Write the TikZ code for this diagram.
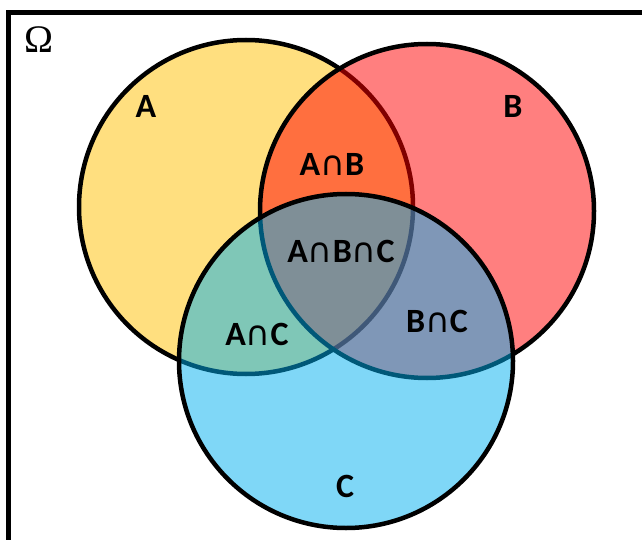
\documentclass[tikz,border=0pt]{standalone}
\usepackage{fontspec}
\setmainfont{Carlito}
\newfontfamily\capfont[Scale=1.0]{DejaVu Sans}
\newfontfamily\omegafont{Liberation Serif}
\definecolor{setA}{HTML}{FFC000}
\definecolor{setB}{HTML}{FF0000}
\definecolor{setC}{HTML}{00B0F0}
\newcommand{\inter}{{\capfont\mdseries ∩}}
\begin{document}
\begin{tikzpicture}[x=1pt,y=-1pt]
			\tikzstyle{set}=[circle,draw=black,line width=4.5pt,fill opacity=0.5,inner sep=0pt,minimum size=334pt]
			\tikzstyle{lbl}=[font=\fontsize{34}{40}\selectfont\bfseries,inner sep=0pt]
			\useasboundingbox (0,0) rectangle (642,540);
			\clip (0,0) rectangle (642,540);
			\fill[white] (0,0) rectangle (642,540);
			\draw[line width=5pt] (8.5,12.5) rectangle (700,600);
			
			\begin{scope}
			\node[set,fill=setA] (A) at (246,207) {};
			\node[set,fill=setB] (B) at (427,211) {};
			\node[set,fill=setC] (C) at (346,361) {};
			\end{scope}
			
			\node[font=\fontsize{39}{44}\selectfont\omegafont,inner sep=0pt] (omega) at (39,40) {Ω};
			\node[lbl] (lA)   at (146,106) {A};
			\node[lbl] (lB)   at (513,106) {B};
			\node[lbl] (lC)   at (345,486) {C};
			\node[lbl] (lAB)  at (332,164) {A\inter B};
			\node[lbl] (lABC) at (341,251) {A\inter B\inter C};
			\node[lbl] (lAC)  at (257,334) {A\inter C};
			\node[lbl] (lBC)  at (437,321) {B\inter C};
		\end{tikzpicture}
\end{document}
